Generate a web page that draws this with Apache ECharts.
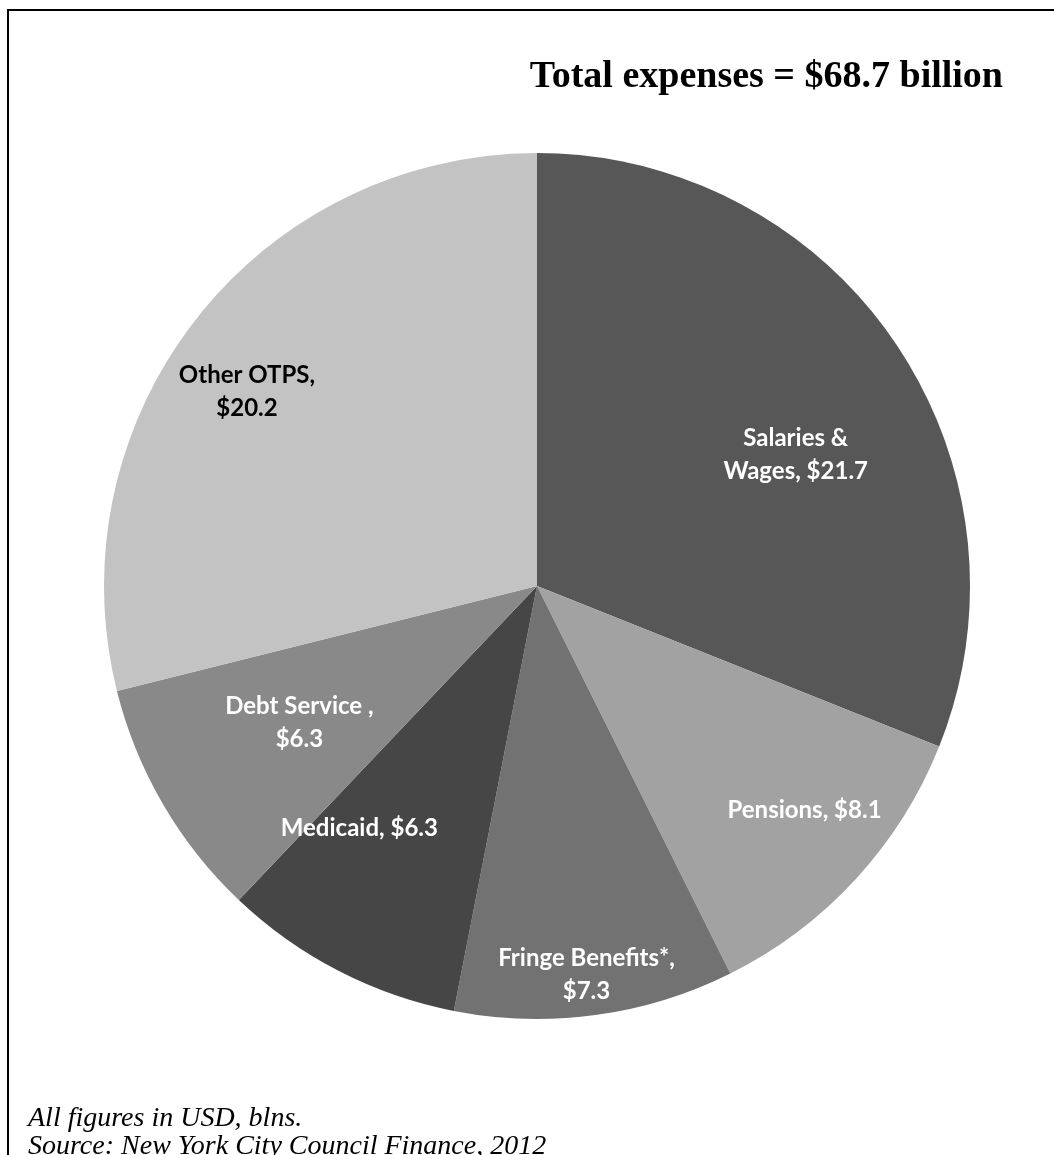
<!DOCTYPE html>
<html>
<head>
<meta charset="utf-8">
<script src="https://cdn.jsdelivr.net/npm/echarts@6/dist/echarts.min.js"></script>
<style>
html,body{margin:0;padding:0;background:#fff;}
#chart{width:1054px;height:1155px;}
</style>
</head>
<body>
<div id="chart"></div>
<script>
// ---- data ----
var categories = ['Salaries & Wages', 'Pensions', 'Fringe Benefits*', 'Medicaid', 'Debt Service ', 'Other OTPS'];
var values = [21.7, 8.1, 7.3, 6.3, 6.3, 20.2];
var titleText = 'Total expenses = $68.7 billion';
var noteLines = ['All figures in USD, blns.', 'Source: New York City Council Finance, 2012'];

// ---- presentation ----
var colors = ['#575757', '#a2a2a2', '#727272', '#464646', '#898989', '#c3c3c3'];
var labelColors = ['#fff', '#fff', '#fff', '#fff', '#fff', '#000'];
var labelOffsets = [[77, -8], [106, 76], [20, 171], [-77, 47], [-48, 26], [-117, -59]];
var breakInName = {'Salaries & Wages': 'Salaries &\nWages'};
var breakBeforeValue = [false, false, true, false, true, true];

var chart = echarts.init(document.getElementById('chart'), null, {renderer: 'canvas'});

var data = categories.map(function (c, i) {
  return {
    name: c,
    value: values[i],
    itemStyle: {color: colors[i]},
    label: {color: labelColors[i], offset: labelOffsets[i]}
  };
});

chart.setOption({
  animation: false,
  backgroundColor: '#fff',
  graphic: [
    {type: 'rect', shape: {x: 8, y: 10, width: 1100, height: 1200},
     style: {fill: 'none', stroke: '#000', lineWidth: 2}, silent: true},
    {type: 'text', x: 1003, y: 77,
     style: {text: titleText, font: 'bold 38px "Liberation Serif", "Times New Roman", serif',
             fill: '#000', textVerticalAlign: 'middle', textAlign: 'right'}},
    {type: 'text', x: 28, y: 1119,
     style: {text: noteLines[0], font: 'italic 28px "Liberation Serif", "Times New Roman", serif',
             fill: '#000', textVerticalAlign: 'middle', textAlign: 'left'}},
    {type: 'text', x: 28, y: 1147,
     style: {text: noteLines[1], font: 'italic 28px "Liberation Serif", "Times New Roman", serif',
             fill: '#000', textVerticalAlign: 'middle', textAlign: 'left'}}
  ],
  series: [{
    type: 'pie',
    center: [537, 586],
    radius: [0, 433],
    startAngle: 90,
    clockwise: true,
    avoidLabelOverlap: false,
    itemStyle: {borderWidth: 0},
    emphasis: {disabled: true},
    label: {
      show: true,
      position: 'inside',
      fontFamily: 'Lato',
      fontWeight: 'bold',
      fontSize: 24,
      lineHeight: 33,
      align: 'center',
      formatter: function (p) {
        var nm = breakInName[p.name] || p.name;
        var sep = breakBeforeValue[p.dataIndex] ? ',\n' : ', ';
        return nm + sep + '$' + p.value.toFixed(1);
      }
    },
    labelLine: {show: false},
    data: data
  }]
});
</script>
</body>
</html>
